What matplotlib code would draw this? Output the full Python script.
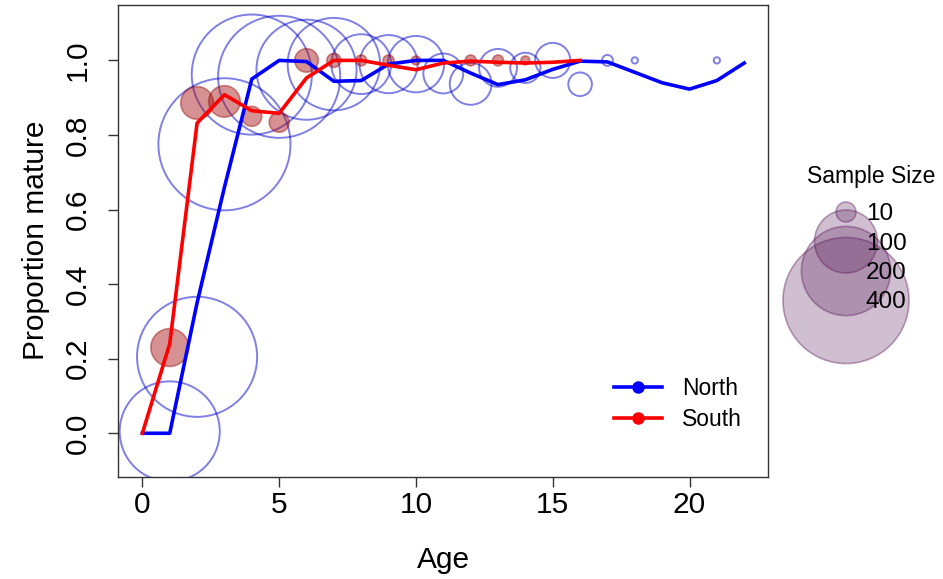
import matplotlib
matplotlib.use("Agg")
import matplotlib.pyplot as plt
import numpy as np
from matplotlib.lines import Line2D

plt.rcParams['font.family'] = ['Liberation Sans', 'DejaVu Sans']

# fitted lines
line_ages_north = list(range(0, 23))
north_line = [0, 0, 0.35, 0.66, 0.95, 1.0, 0.997, 0.944, 0.946, 0.99, 1.0, 1.0,
              0.966, 0.935, 0.948, 0.976, 0.998, 0.996, 0.968, 0.94, 0.923, 0.946, 0.993]
line_ages_south = list(range(0, 17))
south_line = [0, 0.24, 0.832, 0.908, 0.865, 0.858, 0.953, 1.0, 1.0, 0.987, 0.975,
              0.993, 0.998, 0.995, 0.993, 0.995, 1.0]

# observed proportions and sample sizes
north_ages = [1, 2, 3, 4, 5, 6, 7, 8, 9, 10, 11, 12, 13, 14, 15, 16, 17, 18, 21]
north_prop = [0.005, 0.205, 0.775, 0.962, 0.956, 0.975, 0.99, 0.99, 0.99, 0.99,
              0.965, 0.937, 0.98, 0.98, 1.0, 0.936, 1.0, 1.0, 1.0]
north_n = [252, 363, 439, 363, 375, 252, 215, 90, 85, 80, 40, 44, 36, 23, 31, 14, 3, 1, 1]

south_ages = [1, 2, 3, 4, 5, 6, 7, 8, 9, 10, 12, 13, 14]
south_prop = [0.23, 0.886, 0.89, 0.85, 0.834, 1.0, 1.0, 1.0, 1.0, 1.0, 1.0, 1.0, 1.0]
south_n = [36, 27, 25, 10, 10, 14, 5, 3, 3, 2, 3, 3, 2]

legend_sizes = [10, 100, 200, 400]
legend_labels = ['10', '100', '200', '400']

W, H, DPI = 943, 579, 100
K = 20.6  # marker area (pt^2) per fish


def area(n):
    return K * np.asarray(n, dtype=float)


fig = plt.figure(figsize=(W / DPI, H / DPI), dpi=DPI)
ax = fig.add_axes([118.3 / W, 1 - 476.7 / H, 650 / W, 472 / H])

ax.scatter(north_ages, north_prop, s=area(north_n), facecolors='none',
           edgecolors=(0.0, 0.0, 0.8, 0.5), linewidths=1.4, zorder=2)
ax.scatter(south_ages, south_prop, s=area(south_n),
           facecolors=(0.65, 0.05, 0.05, 0.45), edgecolors=(0.6, 0.05, 0.05, 0.45),
           linewidths=1.2, zorder=3)
ax.plot(line_ages_north, north_line, color='blue', lw=2.6, zorder=4)
ax.plot(line_ages_south, south_line, color='red', lw=2.6, zorder=5)

ax.set_xlim(-0.88, 22.88)
ax.set_ylim(-0.1165, 1.1494)
ax.set_xticks([0, 5, 10, 15, 20])
ax.set_yticks([0, 0.2, 0.4, 0.6, 0.8, 1.0])
ax.set_yticklabels(['0.0', '0.2', '0.4', '0.6', '0.8', '1.0'], rotation=90, va='center')
ax.tick_params(labelsize=21.5, length=7, width=1, colors='#333333', labelcolor='black')
ax.tick_params(axis='x', pad=3)
ax.tick_params(axis='y', pad=12)
for sp in ax.spines.values():
    sp.set_color('#333333')
    sp.set_linewidth(1)
ax.set_xlabel('Age', fontsize=21.5, labelpad=20)
ax.set_ylabel('Proportion mature', fontsize=21.5, labelpad=10)

handles = [Line2D([], [], color='blue', lw=2.6, marker='o', ms=8),
           Line2D([], [], color='red', lw=2.6, marker='o', ms=8)]
ax.legend(handles, ['North', 'South'], loc='center left', bbox_to_anchor=(0.762, 0.154),
          frameon=False, fontsize=16.5, handlelength=2.1, handletextpad=0.87,
          labelspacing=0.31, borderpad=0, borderaxespad=0)

# sample size legend in pixel space
lax = fig.add_axes([0, 0, 1, 1], facecolor='none')
lax.set_xlim(0, W)
lax.set_ylim(H, 0)
lax.axis('off')
ly = 212 + 29.5 * np.arange(len(legend_sizes))
lax.scatter([846] * len(legend_sizes), ly, s=area(legend_sizes),
            facecolors=(0.35, 0.1, 0.35, 0.28), edgecolors=(0.35, 0.1, 0.35, 0.4),
            linewidths=1.2)
for y, lab in zip(ly, legend_labels):
    lax.text(866, y + 2, lab, fontsize=17.5, va='center', ha='left')
lax.text(871, 176, 'Sample Size', fontsize=16.5, va='center', ha='center')

fig.savefig('out.png', dpi=DPI)
